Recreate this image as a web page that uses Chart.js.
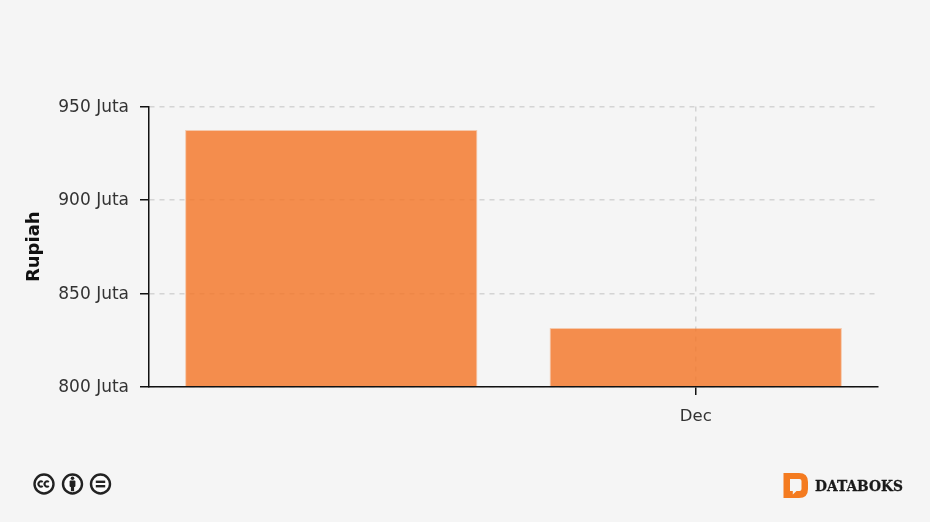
<!DOCTYPE html>
<html>
<head>
<meta charset="utf-8">
<style>
html,body{margin:0;padding:0;background:#f5f5f5;width:930px;height:522px;overflow:hidden}
#wrap{position:absolute;left:0;top:0;width:930px;height:522px}
svg{position:absolute}
</style>
<script src="https://cdn.jsdelivr.net/npm/chart.js@4/dist/chart.umd.min.js"></script>
</head>
<body>
<div id="wrap"><canvas id="c" width="930" height="522"></canvas></div>

<svg style="left:30px;top:470px" width="86" height="28" viewBox="0 0 86 28">
  <g fill="#fbfbfb" stroke="#222" stroke-width="2.400">
    <circle cx="14" cy="14" r="9.500"/>
    <circle cx="42.500" cy="14" r="9.500"/>
    <circle cx="70.500" cy="14" r="9.500"/>
  </g>
  <g fill="none" stroke="#222" stroke-width="2">
    <path d="M12.700 12a2.600 2.600 0 1 0 0 4"/>
    <path d="M18.800 12a2.600 2.600 0 1 0 0 4"/>
  </g>
  <g fill="#222">
    <circle cx="42.500" cy="8.200" r="1.800"/>
    <rect x="39.600" y="10.500" width="5.800" height="6.400" rx="1"/>
    <rect x="40.900" y="15" width="3.200" height="6.200"/>
    <rect x="65.800" y="10.600" width="9.400" height="2.400"/>
    <rect x="65.800" y="15" width="9.400" height="2.400"/>
  </g>
</svg>

<svg style="left:780px;top:470px" width="130" height="32" viewBox="0 0 130 32">
  <path fill="#f47b20" fill-rule="evenodd" d="M3.500 3H19Q28 3 28 12V19Q28 28 19 28H3.500Z M10 9V21H12.800V24.500L16.500 21H19.500Q21.500 21 21.500 19V11Q21.500 9 19.500 9Z"/>
  <text x="35" y="21" font-family="'DejaVu Serif','Liberation Serif',serif" font-weight="700" font-size="14.500" fill="#1a1a1a" stroke="#1a1a1a" stroke-width="0.300" textLength="88" lengthAdjust="spacingAndGlyphs">DATABOKS</text>
</svg>

<script>
const categories = ['', 'Dec'];
const seriesValues = [937.4, 831.5];
const yTickValues = [800, 850, 900, 950];
const yTickLabels = ['800 Juta', '850 Juta', '900 Juta', '950 Juta'];
const yTitle = 'Rupiah';

const fontFamily = "'DejaVu Sans', Verdana, sans-serif";

new Chart(document.getElementById('c'), {
  type: 'bar',
  data: {
    labels: categories,
    datasets: [{
      data: seriesValues,
      backgroundColor: 'rgba(244,118,40,0.82)',
      borderColor: 'rgba(244,120,40,0.35)',
      borderWidth: 1,
      categoryPercentage: 0.802,
      barPercentage: 1
    }]
  },
  options: {
    responsive: false,
    animation: false,
    layout: { padding: { top: 106.500, right: 52, bottom: 0, left: 0 } },
    plugins: { legend: { display: false }, tooltip: { enabled: false } },
    scales: {
      x: {
        afterFit(s) { s.height = 135; },
        border: { color: '#111', width: 1.500, z: 1, dash: [5, 5] },
        grid: {
          offset: false,
          color: c => c.index === 1 ? '#d4d4d4' : 'rgba(0,0,0,0)',
          tickColor: c => c.index === 1 ? '#111' : 'rgba(0,0,0,0)',
          lineWidth: 1.500,
          tickWidth: 1.500,
          tickLength: 8,
          tickBorderDash: []
        },
        ticks: { color: '#333', font: { family: fontFamily, size: 16.500 }, padding: 11.500, maxRotation: 0, autoSkip: false }
      },
      y: {
        min: 800,
        max: 950,
        afterFit(s) { s.width = 149; },
        afterBuildTicks(s) { s.ticks = yTickValues.map(v => ({ value: v })); },
        border: { color: '#111', width: 1.500, z: 1, dash: [5, 5] },
        title: { display: true, text: yTitle, color: '#111', font: { family: fontFamily, size: 18, weight: 'bold' }, padding: { top: 24, bottom: 0 } },
        grid: {
          color: '#d4d4d4',
          tickColor: '#111',
          lineWidth: 1.500,
          tickWidth: 1.500,
          tickLength: 9,
          tickBorderDash: []
        },
        ticks: {
          color: '#333',
          font: { family: fontFamily, size: 17 },
          padding: 11,
          labelOffset: 1,
          callback: v => yTickLabels[yTickValues.indexOf(v)]
        }
      }
    }
  }
});
</script>
</body>
</html>
